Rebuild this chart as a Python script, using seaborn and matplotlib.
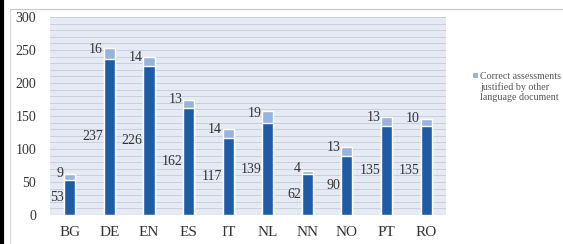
import numpy as np
import matplotlib
matplotlib.use("Agg")
import matplotlib.pyplot as plt
from matplotlib.patches import Rectangle
import seaborn as sns
import pandas as pd

# ──────────────────────────────────────────────
# Data
# ──────────────────────────────────────────────
languages = ["BG", "DE", "EN", "ES", "IT", "NL", "NN", "NO", "PT", "RO"]
correct_same = [53, 237, 226, 162, 117, 139, 62, 90, 135, 135]
correct_other = [9, 16, 14, 13, 14, 19, 4, 13, 13, 10]
legend_label = "Correct assessments\njustified by other\nlanguage document"

df = pd.DataFrame({
    "lang": languages,
    "same": correct_same,
    "other": correct_other,
})
df["total"] = df["same"] + df["other"]

DARK = "#1f5ca6"
LIGHT = "#98b3dc"
BAR_W = 0.28
TXT = "#333333"

sns.set_theme(style="white")
plt.rcParams["font.family"] = ["Liberation Serif", "DejaVu Serif"]

fig = plt.figure(figsize=(5.63, 2.44), dpi=100)
ax = fig.add_axes([0.0888, 0.119, 0.7032, 0.811])

# background + grid
ax.set_facecolor("#e6eaf4")
ax.set_yticks(np.arange(0, 301, 10), minor=True)
ax.grid(which="both", axis="y", color="#c9cfdb", lw=0.7)
ax.set_axisbelow(True)

# stacked bars: total in light, base in dark over it
sns.barplot(data=df, x="lang", y="total", color=LIGHT, width=BAR_W,
            saturation=1, ax=ax)
sns.barplot(data=df, x="lang", y="same", color=DARK, width=BAR_W,
            saturation=1, ax=ax)

# data labels to the left of each bar
for i, row in df.iterrows():
    x_left = i - BAR_W / 2 - 0.02
    ax.text(x_left, row["same"] / 2, str(row["same"]), ha="right",
            va="center", fontsize=10, color=TXT)
    ax.text(x_left, row["same"] + row["other"] / 2 + 6, str(row["other"]),
            ha="right", va="center", fontsize=10, color=TXT)

ax.set_xlim(-0.5, len(languages) - 0.5)
ax.set_ylim(0, 300)
ax.set_yticks(np.arange(0, 301, 50))
ax.set_xlabel("")
ax.set_ylabel("")
ax.tick_params(axis="both", length=0, labelsize=10, colors=TXT)
ax.tick_params(axis="x", labelsize=11, pad=8)
ax.tick_params(axis="y", pad=10)
for s in ax.spines.values():
    s.set_visible(False)
ax.axhline(0, color="#b0b6c2", lw=0.8)

# legend: only the "other language" series, marker next to first line
fig.add_artist(Rectangle((0.840, 0.680), 0.0095, 0.021, facecolor=LIGHT,
                         edgecolor="none", transform=fig.transFigure))
fig.text(0.853, 0.705, legend_label, ha="left", va="top", fontsize=7.2,
         color="#555555", linespacing=1.15)

# chart frame: thin grey border and heavy black left edge
fig.add_artist(plt.Line2D([0.018, 1], [0.963, 0.963], color="#c8c8c8",
                          lw=0.8, transform=fig.transFigure))
fig.add_artist(plt.Line2D([0.018, 0.018], [0, 0.963], color="#d8d8d8",
                          lw=0.8, transform=fig.transFigure))
fig.add_artist(plt.Line2D([0.004, 0.004], [0, 1], color="black",
                          lw=3, transform=fig.transFigure))

fig.savefig("out.png", dpi=100)
plt.close(fig)
